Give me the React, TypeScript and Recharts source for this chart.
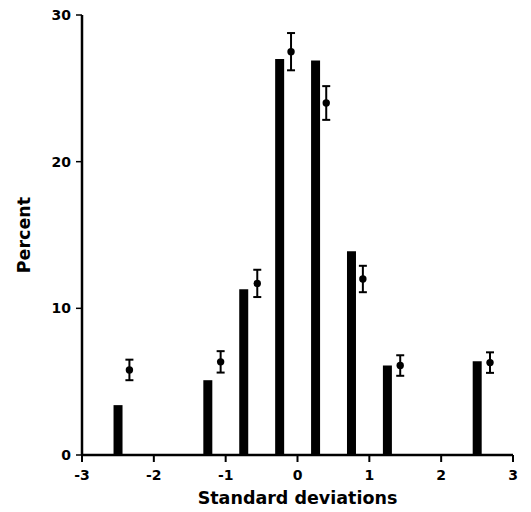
import React from 'react';
import { ComposedChart, Bar, Scatter, XAxis, YAxis, ErrorBar } from 'recharts';

const barPositions = [-2.5, -1.25, -0.75, -0.25, 0.25, 0.75, 1.25, 2.5];
const barPercents = [3.4, 5.1, 11.3, 27.0, 26.9, 13.9, 6.1, 6.4];

const pointPositions = [-2.34, -1.07, -0.56, -0.09, 0.4, 0.91, 1.43, 2.68];
const pointPercents = [5.8, 6.35, 11.7, 27.5, 24.0, 12.0, 6.1, 6.3];
const pointErrors = [0.7, 0.73, 0.93, 1.27, 1.15, 0.9, 0.7, 0.7];

const xTicks = [-3, -2, -1, 0, 1, 2, 3];
const yTicks = [0, 10, 20, 30];

const barData = barPositions.map((x, i) => ({ x, pct: barPercents[i] }));
const pointData = pointPositions.map((x, i) => ({ x, y: pointPercents[i], err: pointErrors[i] }));

const FONT = '"DejaVu Sans", sans-serif';

const Dot = (props: any) => <circle cx={props.cx} cy={props.cy} r={3.7} fill="#000" />;

export default function App() {
  return (
    <div style={{ position: 'absolute', left: 0, top: 0, background: '#fff' }}>
      <ComposedChart
        width={531}
        height={512}
        data={barData}
        margin={{ top: 15, right: 18, left: 0, bottom: 0 }}
      >
        <XAxis
          type="number"
          dataKey="x"
          domain={[-3, 3]}
          ticks={xTicks}
          height={57}
          tickSize={7}
          tickMargin={8}
          axisLine={{ stroke: '#000', strokeWidth: 2.5 }}
          tickLine={{ stroke: '#000', strokeWidth: 2 }}
          tick={{ fill: '#000', fontSize: 14, fontWeight: 700, fontFamily: FONT }}
          label={{
            value: 'Standard deviations',
            position: 'insideBottom',
            offset: 8,
            style: { fill: '#000', fontSize: 17.5, fontWeight: 700, fontFamily: FONT },
          }}
        />
        <YAxis
          type="number"
          domain={[0, 30]}
          ticks={yTicks}
          width={82}
          tickSize={6}
          tickMargin={5}
          axisLine={{ stroke: '#000', strokeWidth: 2.5 }}
          tickLine={{ stroke: '#000', strokeWidth: 1.5 }}
          tick={{ fill: '#000', fontSize: 14, fontWeight: 700, fontFamily: FONT }}
          label={{
            value: 'Percent',
            angle: -90,
            position: 'insideLeft',
            offset: 24,
            style: { fill: '#000', fontSize: 17.5, fontWeight: 700, fontFamily: FONT, textAnchor: 'middle' },
          }}
        />
        <Bar dataKey="pct" fill="#000" barSize={9} isAnimationActive={false} />
        <Scatter data={pointData} dataKey="y" shape={<Dot />} isAnimationActive={false}>
          <ErrorBar dataKey="err" direction="y" width={4} stroke="#000" strokeWidth={2} />
        </Scatter>
      </ComposedChart>
    </div>
  );
}
